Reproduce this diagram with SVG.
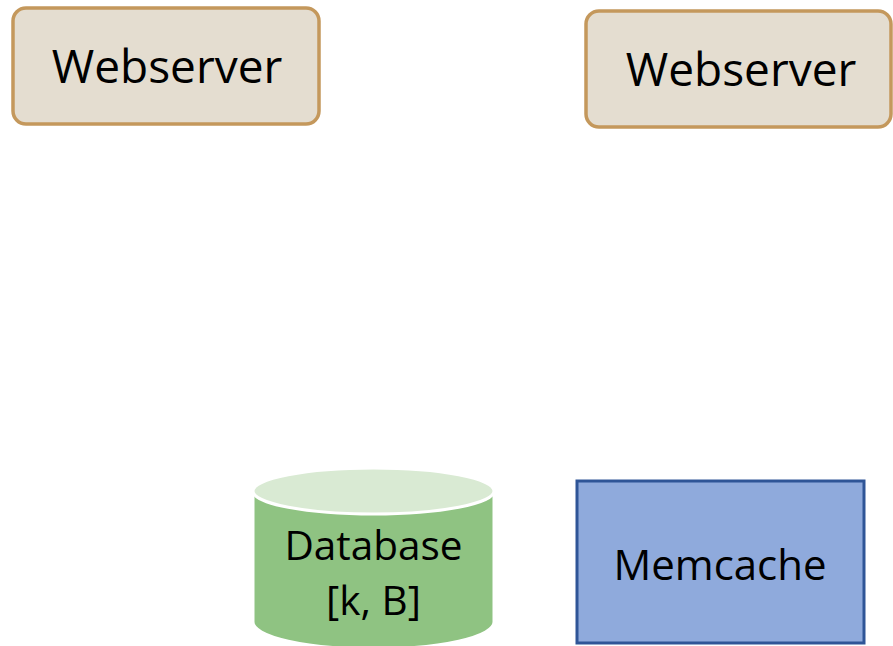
<svg xmlns="http://www.w3.org/2000/svg" width="893" height="646" viewBox="0 0 893 646">
  <style>
    .label { font-family: "Open Sans", "Liberation Sans", sans-serif; fill: #000; text-anchor: middle; }
    .web { fill: #e4ddd0; stroke: #c4985c; stroke-width: 3.5; }
    .cache { fill: #8faadc; stroke: #2f5597; stroke-width: 3; }
    .db-body { fill: #8fc382; stroke: #ffffff; stroke-width: 3; }
    .db-top { fill: #d9ead3; stroke: #ffffff; stroke-width: 3; }
  </style>
  <rect width="893" height="646" fill="#ffffff"/>

  <g id="webserver-1">
    <rect class="web" x="13" y="8" width="306" height="116" rx="13" ry="13"/>
    <text class="label" x="167" y="83" font-size="46">Webserver</text>
  </g>

  <g id="webserver-2">
    <rect class="web" x="586" y="11" width="305" height="116" rx="13" ry="13"/>
    <text class="label" x="741" y="86" font-size="46">Webserver</text>
  </g>

  <g id="database">
    <path class="db-body" d="M253,491 L253,622 A120.5,27 0 0 0 494,622 L494,491 Z"/>
    <ellipse class="db-top" cx="373.5" cy="491" rx="120.5" ry="23"/>
    <text class="label" x="373.5" y="560" font-size="40.5">Database</text>
    <text class="label" x="373.5" y="615" font-size="40.5">[k, B]</text>
  </g>

  <g id="memcache">
    <rect class="cache" x="577" y="481" width="287" height="162"/>
    <text class="label" x="720" y="580" font-size="42">Memcache</text>
  </g>

  <g id="connectors"></g>
</svg>
